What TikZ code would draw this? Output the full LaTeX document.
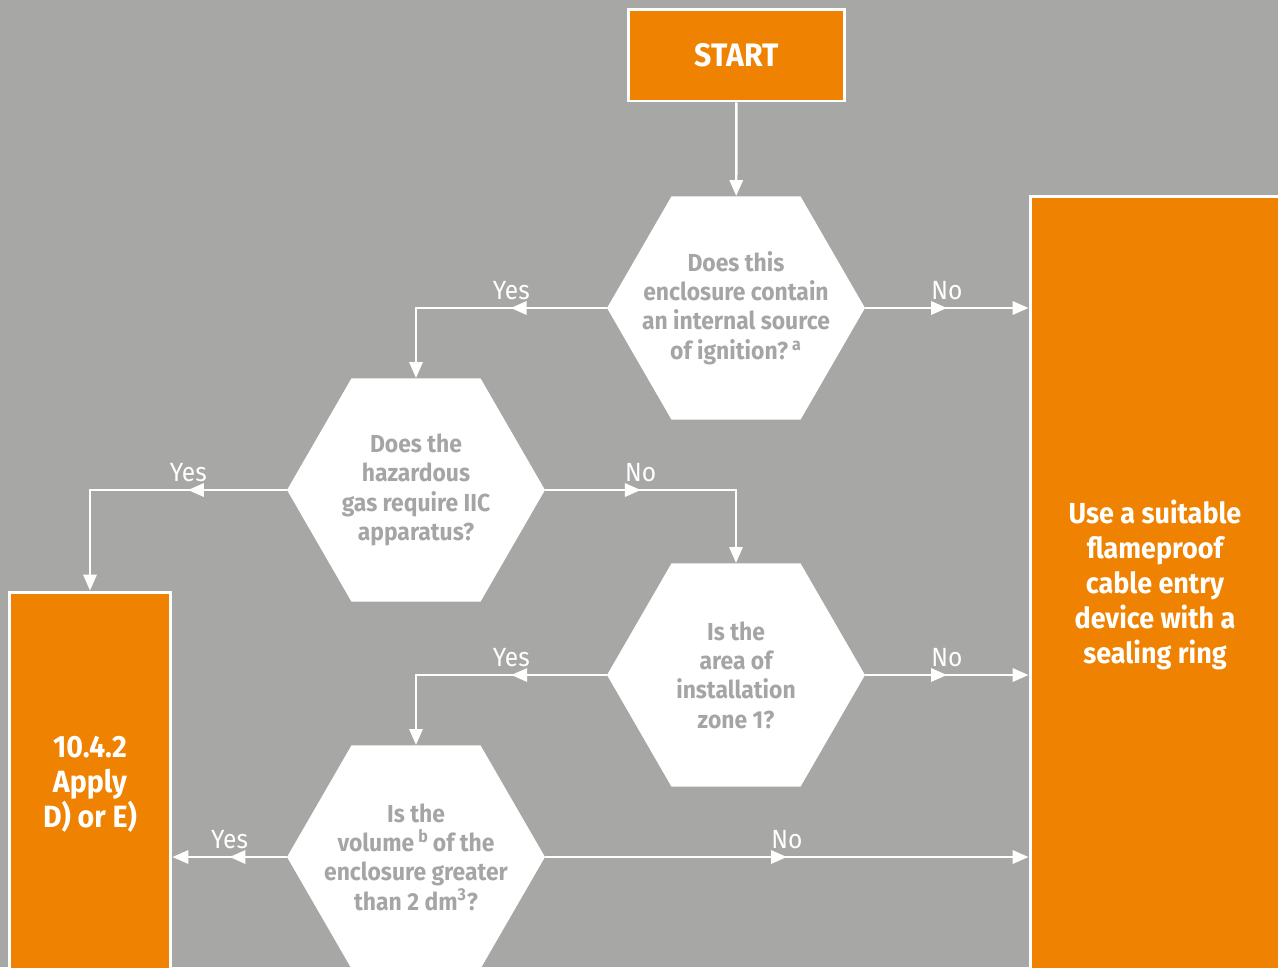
\documentclass[tikz,border=0pt]{standalone}
\usepackage{fontspec}
\setmainfont{Fira Sans}[FakeStretch=0.93]
\usetikzlibrary{shapes.geometric, arrows.meta, decorations.markings}
\definecolor{bggrey}{HTML}{A7A7A6}
\definecolor{exorange}{HTML}{EF8200}
\definecolor{qgrey}{HTML}{A5A5A5}
\begin{document}
\begin{tikzpicture}[x=0.02cm, y=-0.02cm,
  every node/.style={font=\fontsize{15}{18}\selectfont},
  box/.style={draw=white, line width=1.7pt, fill=exorange, text=white,
              align=center, inner sep=0pt,
              font=\fontsize{16.5}{19.8}\selectfont\bfseries},
  hex/.style={regular polygon, regular polygon sides=6, fill=white,
              minimum size=5.16cm, inner sep=0pt},
  qtext/.style={text=qgrey, align=center,
                font=\fontsize{14}{16.7}\selectfont\bfseries},
  flow/.style={color=white, line width=1.4pt, -{Triangle[length=9pt,width=7.5pt]}},
  mid/.style={postaction={decorate, decoration={markings,
              mark=at position #1 with {\arrow{Triangle[length=9pt,width=7.5pt]}}}}},
  ans/.style={text=white, inner sep=4pt},
]

% ── Canvas ──
\useasboundingbox (0,0) rectangle (1278,967);
\clip (0,0) rectangle (1278,967);
\fill[bggrey] (0,0) rectangle (1278,967);

% ── Start ──
\node[box, minimum width=4.34cm, minimum height=1.84cm,
      font=\fontsize{18.5}{22}\selectfont\bfseries] (start) at (736.5,55) {START};

% ── Questions ──
\node[hex, label={[qtext]center:{Does this\\enclosure contain\\an internal source\\of ignition?\,\textsuperscript{a}}}]
  (q1) at (736,308) {};
\node[hex, label={[qtext]center:{Does the\\hazardous\\gas require IIC\\apparatus?}}]
  (q2) at (416,490) {};
\node[hex, label={[qtext]center:{Is the\\area of\\installation\\zone 1?}}]
  (q3) at (736,675) {};
\node[hex, label={[qtext]center:{Is the\\volume\,\textsuperscript{b}\,of the\\enclosure greater\\than 2 dm\textsuperscript{3}?}}]
  (q4) at (416,857) {};

% ── Outcomes ──
\node[box, minimum width=5cm, minimum height=15.56cm] (use) at (1155,585)
  {Use a suitable\\flameproof\\cable entry\\device with a\\sealing ring};
\node[box, minimum width=3.24cm, minimum height=7.68cm,
      font=\fontsize{17.5}{20}\selectfont\bfseries] (apply) at (90,784)
  {10.4.2\\Apply\\D) or E)};

% ── Arrows ──
\draw[flow] (start) -- (q1);

\draw[flow, mid=.368] (q1.west) -| node[pos=.25, above, ans] {Yes} (q2.north);
\draw[flow, mid=.5] (q1.east) -- node[above, ans] {No} (use.west |- q1.east);

\draw[flow, mid=.332] (q2.west) -| node[pos=.25, above, ans] {Yes} (apply.north);
\draw[flow, mid=.362] (q2.east) -| node[pos=.25, above, ans] {No} (q3.north);

\draw[flow, mid=.366] (q3.west) -| node[pos=.25, above, ans] {Yes} (q4.north);
\draw[flow, mid=.5] (q3.east) -- node[above, ans] {No} (use.west |- q3.east);

\draw[flow, mid=.5] (q4.west) -- node[above, ans] {Yes} (apply.east |- q4.west);
\draw[flow, mid=.5] (q4.east) -- node[above, ans] {No} (use.west |- q4.east);

\end{tikzpicture}
\end{document}
